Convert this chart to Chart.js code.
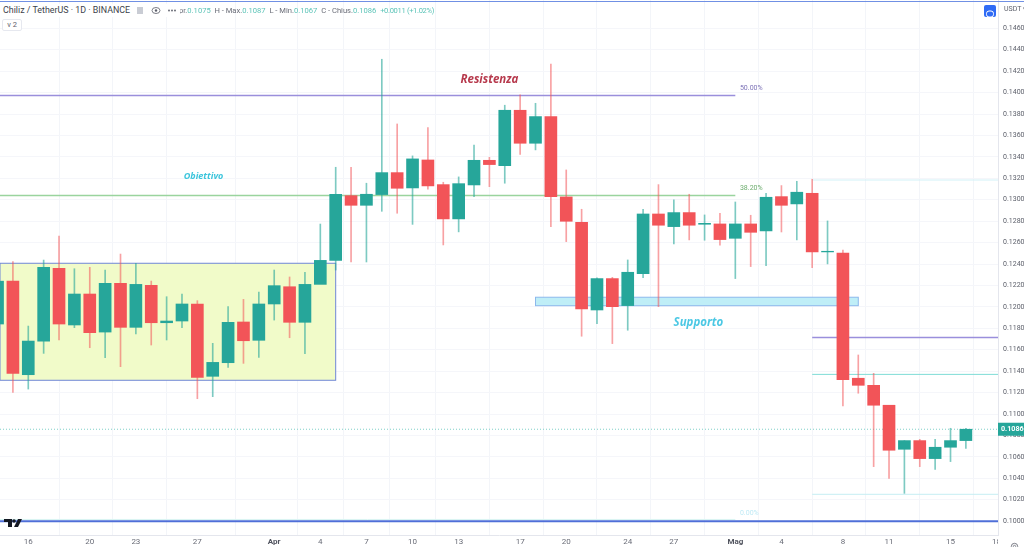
<!DOCTYPE html>
<html>
<head>
<meta charset="utf-8">
<title>Chiliz / TetherUS</title>
<script src="https://cdn.jsdelivr.net/npm/chart.js@4"></script>
<style>
  html, body { margin: 0; padding: 0; background: #fff; overflow: hidden; }
  #wrap { position: relative; width: 1024px; height: 547px; font-family: Roboto, sans-serif; }
  #wrap canvas { position: absolute; left: 0; top: 0; filter: blur(0.35px); }
  #topLine { position: absolute; left: 0; right: 0; top: 1px; height: 1px; background: #7090e4; }
  #legend { position: absolute; left: 174px; top: 6px; font-size: 7.6px; line-height: 10px; color: #6a6d78; white-space: pre; }
  #legend b { font-weight: 400; color: #5cc4b8; }
  #legend i { font-style: normal; color: #5cc4b8; letter-spacing: -0.35px; }
  #title { position: absolute; left: 0; top: 4px; width: 180px; height: 13px; background: #fff; border-radius: 3px;
           font-size: 8.9px; line-height: 13px; color: #3c3f4a; padding-left: 3px; box-sizing: border-box; white-space: pre; }
  #title svg { position: absolute; left: 0; top: 0; }
  #collapse { position: absolute; left: 2px; top: 19px; width: 18px; height: 10px; border: 1px solid #e6e8ef; border-radius: 2px;
              font-size: 7.5px; line-height: 10px; text-align: center; color: #5d606b; background: #fff; box-sizing: content-box; }
  #usdt { position: absolute; left: 1004px; top: 4px; font-size: 7px; line-height: 10px; color: #5d606b; white-space: pre; }
  #autoBtn { position: absolute; left: 984px; top: 5px; width: 12px; height: 12px; background: #2f6bf5; border-radius: 2px; }
  #corner { position: absolute; left: 998px; top: 536px; width: 26px; height: 11px; background: #fff; }
</style>
</head>
<body>
<div id="wrap">
  <canvas id="chart" width="1024" height="547"></canvas>
  <div id="topLine"></div>
  <div id="legend">Apr.<b>0.1075</b>  H - Max.<b>0.1087</b>  L - Min.<b>0.1067</b>  C - Chius.<b>0.1086</b>  <i>+0.0011 (+1.02%)</i></div>
  <div id="title">Chiliz / TetherUS · 1D · BINANCE<svg width="180" height="13">
    <rect x="137" y="3" width="6" height="7" fill="#c9ccd4"/>
    <ellipse cx="156" cy="6.5" rx="4" ry="3" fill="none" stroke="#5d606b" stroke-width="0.8"/><circle cx="156" cy="6.5" r="1.2" fill="#5d606b"/>
    <circle cx="169" cy="6.5" r="0.9" fill="#5d606b"/><circle cx="172" cy="6.5" r="0.9" fill="#5d606b"/><circle cx="175" cy="6.5" r="0.9" fill="#5d606b"/>
  </svg></div>
  <div id="collapse">v 2</div>
  <div id="usdt">USDT ▾</div>
  <div id="autoBtn"><svg width="12" height="12"><rect x="2.5" y="3" width="7" height="6" rx="2.5" fill="none" stroke="#fff" stroke-width="1"/></svg></div>
  <div id="corner"><svg width="26" height="11"><circle cx="16.5" cy="6.5" r="3.2" fill="none" stroke="#5d606b" stroke-width="0.8"/><circle cx="16.5" cy="6.5" r="1.2" fill="none" stroke="#5d606b" stroke-width="0.7"/></svg></div>
  <svg style="position:absolute;left:3px;top:518px" width="20" height="10">
    <path d="M1 1h8v8H5V4H1z" fill="#131722"/><circle cx="11" cy="3" r="1.8" fill="#131722"/><path d="M15 1h4l-4 8h-4z" fill="#131722"/>
  </svg>
</div>

<script>
// === DATA ===
const barIndex = [-2,-1,0,1,2,3,4,5,6,7,8,9,10,11,12,13,14,15,16,17,18,19,20,21,22,23,24,25,26,27,28,29,30,31,32,33,34,35,36,37,38,39,40,41,42,43,44,45,46,47,48,49,50,51,52,53,54,55,56,57,58,59,60,61];
const opens = [.1184,.12241,.11367,.11681,.1236,.11831,.1212,.11765,.1222,.11809,.12201,.11852,.11868,.12027,.11352,.11479,.11859,.11688,.12027,.12188,.11856,.1221,
  .12434,.13038,.12948,.13048,.13253,.1311,.13371,.13141,.12821,.13138,.13368,.13318,.13835,.13527,.13776,.13026,.1279,.11971,.12264,.12012,.1231,.12867,.12749,.1288,.12771,.12774,.1264,.12774,.12709,.13029,.12961,.1306,.12513,.12503,.11334,.11268,.11082,.10671,.10752,.10584,.1069,.10752];
const closes = [.1224,.1138,.11681,.12369,.1184,.1212,.11759,.1222,.11809,.1221,.11852,.11868,.12027,.11342,.11482,.11856,.11684,.12027,.12198,.11856,.1221,.12434,
  .13051,.12948,.13051,.13253,.13107,.13381,.13129,.12821,.1315,.13368,.13328,.13835,.13527,.13776,.13029,.12799,.11981,.12264,.12002,.12323,.12867,.12762,.1288,.12762,.1278,.12628,.12774,.12696,.13023,.12948,.1307,.12513,.12519,.11321,.11268,.11082,.10662,.10752,.10584,.1069,.10752,.10858];
const highs = [.1242,.12422,.11821,.12437,.12661,.12356,.12369,.12344,.12493,.12406,.12241,.12095,.1212,.12058,.1166,.12002,.1207,.12139,.12344,.12279,.12322,.12773,
  .13303,.13303,.13154,.14311,.13707,.13409,.13673,.13163,.13213,.13511,.13396,.13882,.13978,.139,.14267,.13278,.12911,.1227,.12276,.12438,.12911,.13141,.12998,.13051,.12858,.12874,.12979,.12855,.1306,.13132,.13172,.13191,.12802,.12531,.11551,.1138,.11082,.10752,.10764,.10764,.10867,.10867];
const lows = [.1168,.11202,.11233,.11566,.11691,.11806,.11619,.11526,.11442,.11747,.11644,.11691,.11806,.11143,.11162,.11436,.11473,.11529,.11877,.11712,.11563,.12434,
  .12344,.12419,.12419,.12892,.12874,.1277,.13098,.12578,.127,.13029,.13122,.13154,.13424,.13465,.12749,.12609,.11726,.11844,.11657,.11782,.12273,.12002,.12587,.12625,.12622,.12575,.12264,.12376,.12385,.12699,.12625,.12366,.12401,.11075,.11194,.10509,.104,.1026,.10509,.10484,.10556,.1068];

const tickBars = [0,4,7,11,16,19,22,25,28,32,35,39,42,46,49,53,56,60,63];
const tickLabels = ["16","20","23","27","Apr","4","7","10","13","17","20","24","27","Mag","4","8","11","15","18"];
const monthLabels = ["Apr","Mag"];
const priceTicks = [.146,.144,.142,.14,.138,.136,.134,.132,.13,.128,.126,.124,.122,.12,.118,.116,.114,.112,.11,.108,.106,.104,.102,.1];

// linee tracciate sul grafico: prezzo, barra iniziale, barra finale, colore
const lineLevels = [.13973,.1304,.13184,.11715,.1137,.10251,.10016,.1];
const lineStart = [-1.84,-1.84,51,51,51,51,-1.84,-1.84];
const lineEnd = [46,46,63.09,63.09,63.09,63.09,46,63.09];
const lineColors = ["#9a8fdc","#9ad49e","#d2f1f7","#9a8fdc","#7fdcd6","#c5eef3","#d8f4f2","#4f6fd8"];
const lineWidths = [1.5,1.5,1,1.5,1,1,1,2];

const lastPriceLevel = .10858;
const rectBars = [[-1.84,20],[33,54]];
const rectPrices = [[.12407,.11315],[.1209,.12011]];
const rectFills = ["#f1fbc9","#bfeef7"];
const rectBorders = ["#6f86d6","#8db8ec"];

const noteTexts = ["Resistenza","Obiettivo","Supporto"];
const noteBars = [30,11.4,43.6];
const notePrices = [.14118,.13213,.1185];
const noteColors = ["#b73a4d","#3cc5dc","#4cc8e4"];
const noteFonts = ["italic 700 11.5px 'Open Sans'","italic 700 9px 'Open Sans'","italic 700 11.5px 'Open Sans'"];

const fibTexts = ["50.00%","38.20%","0.00%"];
const fibBars = [46.3,46.3,46.3];
const fibPrices = [.14036,.13105,.10076];
const fibColors = ["#7e74b8","#6fae70","#bfeaf5"];

// === COSTRUZIONE DATASET ===
const UP = "#26a69a", DOWN = "#f25458";
const UP_WICK = "rgba(38,166,154,0.6)", DOWN_WICK = "rgba(242,84,88,0.55)";
const isUp = barIndex.map((_, i) => closes[i] >= opens[i]);
const X_MIN = -1.84, X_MAX = 63.09;

const datasets = [
  {
    type: "bar", label: "body", order: 1, barThickness: 12, grouped: false,
    data: barIndex.map((x, i) => ({x, y: [opens[i], closes[i]]})),
    backgroundColor: isUp.map(u => u ? UP : DOWN), borderWidth: 0
  },
  {
    type: "bar", label: "wick", order: 2, barThickness: 1, grouped: false,
    data: barIndex.map((x, i) => ({x, y: [lows[i], highs[i]]})),
    backgroundColor: isUp.map(u => u ? UP_WICK : DOWN_WICK), borderWidth: 0
  },
  {
    type: "line", label: "last", order: 3, borderColor: "#7fd0c8", borderWidth: 1, borderDash: [1, 2], pointRadius: 0,
    data: [{x: X_MIN, y: lastPriceLevel}, {x: X_MAX, y: lastPriceLevel}]
  }
];
lineLevels.forEach((lvl, i) => {
  datasets.push({
    type: "line", label: "level" + i, order: 3, borderColor: lineColors[i], borderWidth: lineWidths[i], pointRadius: 0,
    data: [{x: lineStart[i], y: lvl}, {x: lineEnd[i], y: lvl}]
  });
});

// === PLUGIN DISEGNO ===
const drawings = {
  id: "drawings",
  beforeDraw(chart) {
    chart.ctx.fillStyle = "#fff";
    chart.ctx.fillRect(0, 0, chart.width, chart.height);
  },
  beforeDatasetsDraw(chart) {
    const {ctx, scales: {x, y}} = chart;
    rectBars.forEach((b, i) => {
      const l = x.getPixelForValue(b[0]), r = x.getPixelForValue(b[1]);
      const t = y.getPixelForValue(rectPrices[i][0]), m = y.getPixelForValue(rectPrices[i][1]);
      ctx.fillStyle = rectFills[i];
      ctx.fillRect(l, t, r - l, m - t);
      ctx.strokeStyle = rectBorders[i];
      ctx.lineWidth = 1;
      ctx.strokeRect(l, t, r - l, m - t);
    });
  },
  afterDraw(chart) {
    const {ctx, scales: {x, y}} = chart;
    ctx.save();
    ctx.textBaseline = "middle";
    ctx.textAlign = "center";
    noteTexts.forEach((t, i) => {
      ctx.font = noteFonts[i];
      ctx.fillStyle = noteColors[i];
      ctx.fillText(t, x.getPixelForValue(noteBars[i]), y.getPixelForValue(notePrices[i]));
    });
    ctx.textAlign = "left";
    ctx.font = "7px Roboto";
    fibTexts.forEach((t, i) => {
      ctx.fillStyle = fibColors[i];
      ctx.fillText(t, x.getPixelForValue(fibBars[i]), y.getPixelForValue(fibPrices[i]));
    });
    // etichetta ultimo prezzo
    const py = y.getPixelForValue(lastPriceLevel);
    ctx.fillStyle = UP;
    ctx.fillRect(998, py - 6.5, 26, 13);
    ctx.fillStyle = "#fff";
    ctx.font = "700 7.2px Roboto";
    ctx.fillText(lastPriceLevel.toFixed(4), 1001, py);
    ctx.restore();
  }
};

// === GRAFICO ===
new Chart(document.getElementById("chart"), {
  type: "bar",
  data: {datasets},
  plugins: [drawings],
  options: {
    responsive: false,
    animation: false,
    parsing: {xAxisKey: "x", yAxisKey: "y"},
    layout: {padding: 0},
    plugins: {legend: {display: false}, tooltip: {enabled: false}},
    scales: {
      x: {
        type: "linear", min: X_MIN, max: X_MAX, offset: false,
        afterFit(s) { s.height = 12; s.paddingLeft = 0; s.paddingRight = 0; },
        afterBuildTicks(s) { s.ticks = tickBars.map(value => ({value})); },
        grid: {color: "#f3f5f9", drawTicks: false},
        border: {color: "#e4e6ed"},
        ticks: {
          autoSkip: false, maxRotation: 0, padding: 2,
          color: ctx => monthLabels.includes(tickLabels[ctx.index]) ? "#50535e" : "#6a6d78",
          font: ctx => ({family: "Roboto", size: 8, weight: monthLabels.includes(tickLabels[ctx.index]) ? "700" : "400"}),
          callback: (v, i) => tickLabels[i]
        }
      },
      y: {
        position: "right", min: .09871, max: .14864,
        afterFit(s) { s.width = 26; s.paddingTop = 0; s.paddingBottom = 0; },
        afterBuildTicks(s) { s.ticks = priceTicks.map(value => ({value})); },
        grid: {color: "#f5f6fa", drawTicks: false},
        border: {color: "#e4e6ed"},
        ticks: {
          autoSkip: false, padding: 5, color: "#5d606b", font: {family: "Roboto", size: 7},
          callback: v => v.toFixed(4)
        }
      }
    }
  }
});
</script>
</body>
</html>
